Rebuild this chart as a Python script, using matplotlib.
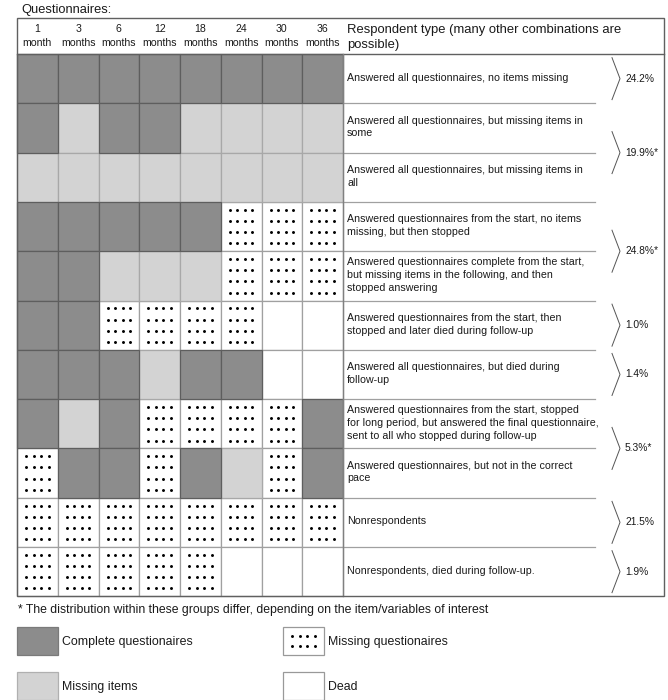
import matplotlib
matplotlib.use('Agg')
import matplotlib.pyplot as plt
from matplotlib.patches import Rectangle

plt.rcParams['font.family'] = ['Liberation Sans', 'DejaVu Sans']

# data
months = ['1', '3', '6', '12', '18', '24', '30', '36']
month_units = ['month'] + ['months'] * 7
# C = complete, M = missing items, Q = missing questionnaire, D = dead
patterns = [
    'CCCCCCCC',
    'CMCCMMMM',
    'MMMMMMMM',
    'CCCCCQQQ',
    'CCMMMQQQ',
    'CCQQQQDD',
    'CCCMCCDD',
    'CMCQQQQC',
    'QCCQCMQC',
    'QQQQQQQQ',
    'QQQQQDDD',
]
row_labels = [
    'Answered all questionnaires, no items missing',
    'Answered all questionnaires, but missing items in\nsome',
    'Answered all questionnaires, but missing items in\nall',
    'Answered questionnaires from the start, no items\nmissing, but then stopped',
    'Answered questionnaires complete from the start,\nbut missing items in the following, and then\nstopped answering',
    'Answered questionnaires from the start, then\nstopped and later died during follow-up',
    'Answered all questionnaires, but died during\nfollow-up',
    'Answered questionnaires from the start, stopped\nfor long period, but answered the final questionnaire,\nsent to all who stopped during follow-up',
    'Answered questionnaires, but not in the correct\npace',
    'Nonrespondents',
    'Nonrespondents, died during follow-up.',
]
groups = [[0], [1, 2], [3, 4], [5], [6], [7, 8], [9], [10]]
group_pcts = ['24.2%', '19.9%*', '24.8%*', '1.0%', '1.4%', '5.3%*', '21.5%', '1.9%']
legend_items = [('C', 'Complete questionaires'), ('Q', 'Missing questionaires'),
                ('M', 'Missing items'), ('D', 'Dead')]

# styles
fills = {'C': '#8c8c8c', 'M': '#d3d3d3', 'Q': 'white', 'D': 'white'}
edges = {'C': '#5e5e5e', 'M': '#a8a8a8', 'Q': '#a0a0a0', 'D': '#a0a0a0'}
zord = {'C': 3, 'M': 2, 'Q': 1, 'D': 1}
txt_c = '#1a1a1a'

# layout (pixels)
X0, COLW = 17, 40.75
TXT_X = X0 + COLW * len(months)
RIGHT, SEP_END = 664, 595
Y_TOP, HDR_H, ROW_H = 18, 36, 49.3
Y0 = Y_TOP + HDR_H
Y_END = Y0 + ROW_H * len(patterns)

fig = plt.figure(figsize=(6.68, 7.0), dpi=100)
ax = fig.add_axes([0, 0, 1, 1])
ax.set_xlim(0, 668)
ax.set_ylim(700, 0)
ax.axis('off')


def dots(x, y, w, h, nrow, dy):
    xs, ys = [], []
    cx, cy = x + w / 2, y + h / 2
    for r in range(nrow):
        for c in range(4):
            xs.append(cx + (c - 1.5) * 7.5)
            ys.append(cy + (r - (nrow - 1) / 2) * dy)
    ax.scatter(xs, ys, s=4.5, c='black', marker='o', linewidths=0, zorder=5)


ax.text(21, 13, 'Questionnaires:', fontsize=9.3, va='baseline', color=txt_c)

# header
for j, (m, u) in enumerate(zip(months, month_units)):
    ax.text(X0 + COLW * (j + 0.5), Y_TOP + HDR_H / 2, m + '\n' + u, fontsize=7.6,
            ha='center', va='center', linespacing=1.45, color=txt_c)
ax.text(TXT_X + 4, Y_TOP + HDR_H / 2 + 1.5, 'Respondent type (many other combinations are\npossible)',
        fontsize=9.4, va='center', linespacing=1.3, color=txt_c)

# grid cells
for i, pat in enumerate(patterns):
    y = Y0 + i * ROW_H
    for j, k in enumerate(pat):
        x = X0 + j * COLW
        ax.add_patch(Rectangle((x, y), COLW, ROW_H, facecolor=fills[k], edgecolor=edges[k],
                               linewidth=0.9, zorder=zord[k]))
        if k == 'Q':
            dots(x, y, COLW, ROW_H, 4, 11.2)
    ax.text(TXT_X + 4, y + ROW_H / 2 - 1, row_labels[i], fontsize=7.7, va='center',
            linespacing=1.35, color=txt_c)
    if i > 0:
        ax.plot([TXT_X, SEP_END], [y, y], color='#a0a0a0', lw=0.9, zorder=4)

# brackets with percentages
for g, pct in zip(groups, group_pcts):
    yc = Y0 + ROW_H * (g[0] + g[-1] + 1) / 2
    ax.plot([612, 620, 612], [yc - 21, yc, yc + 21], color='#555555', lw=0.7, zorder=4)
    ax.text(625, yc, pct, fontsize=7.4, va='center', color=txt_c)

# frame lines
ax.plot([X0, RIGHT], [Y0, Y0], color='#606060', lw=1.0, zorder=6)
ax.plot([TXT_X, TXT_X], [Y0, Y_END], color='#808080', lw=1.0, zorder=6)
ax.add_patch(Rectangle((X0, Y_TOP), RIGHT - X0, Y_END - Y_TOP, facecolor='none',
                       edgecolor='#606060', linewidth=1.0, zorder=7))

ax.text(18, 610, '* The distribution within these groups differ, depending on the item/variables of interest',
        fontsize=8.8, va='center', color=txt_c)

# legend
for n, (k, lab) in enumerate(legend_items):
    bx = 17 if n % 2 == 0 else 283
    by = 627 if n < 2 else 672
    ax.add_patch(Rectangle((bx, by), 41, 28, facecolor=fills[k],
                           edgecolor={'C': '#7a7a7a', 'M': '#b0b0b0'}.get(k, '#999999'),
                           linewidth=0.9, zorder=3))
    if k == 'Q':
        dots(bx, by, 41, 28, 2, 10.7)
    ax.text(bx + 45, by + 15, lab, fontsize=8.9, va='center', color=txt_c)

fig.savefig('out.png', dpi=100)
